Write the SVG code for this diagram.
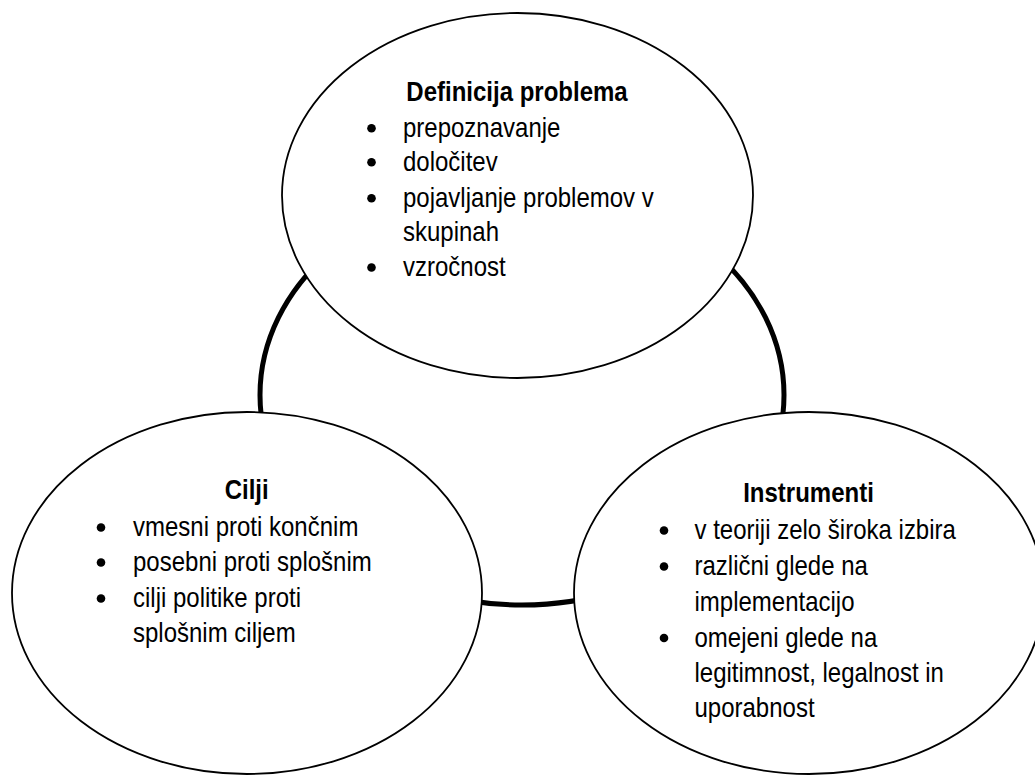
<svg xmlns="http://www.w3.org/2000/svg" width="1035" height="776" viewBox="0 0 1035 776">
<style>
.bg{fill:#fff}
.ring{fill:none;stroke:#000;stroke-width:5}
.node{fill:#fff;stroke:#000;stroke-width:1.8}
.h{font-family:"Liberation Sans",Arial,sans-serif;font-size:24px;font-weight:bold;fill:#000;text-anchor:middle}
.t{font-family:"Liberation Sans",Arial,sans-serif;font-size:24px;fill:#000}
.b{fill:#000}
</style>
<rect class="bg" x="0" y="0" width="1035" height="776"/>
<g id="connectors">
<ellipse class="ring" cx="522" cy="395" rx="262" ry="210"/>
</g>
<g id="node-definicija">
<ellipse class="node" cx="517.5" cy="195.5" rx="235.5" ry="182.5"/>
<text class="h" transform="translate(517,100.7) scale(1,1.15)">Definicija problema</text>
<circle class="b" cx="371.5" cy="128.2" r="4.3"/>
<text class="t" transform="translate(403,136.7) scale(1,1.15)">prepoznavanje</text>
<circle class="b" cx="371.5" cy="162.2" r="4.3"/>
<text class="t" transform="translate(403,170.7) scale(1,1.15)">določitev</text>
<circle class="b" cx="371.5" cy="198.2" r="4.3"/>
<text class="t" transform="translate(403,206.7) scale(1,1.15)">pojavljanje problemov v</text>
<text class="t" transform="translate(403,240.7) scale(1,1.15)">skupinah</text>
<circle class="b" cx="371.5" cy="267.5" r="4.3"/>
<text class="t" transform="translate(403,276) scale(1,1.15)">vzročnost</text>
</g>
<g id="node-cilji">
<ellipse class="node" cx="247" cy="593" rx="235" ry="181"/>
<text class="h" transform="translate(246.7,499.3) scale(1,1.15)">Cilji</text>
<circle class="b" cx="101" cy="527.5" r="4.3"/>
<text class="t" transform="translate(133,536) scale(1,1.15)">vmesni proti končnim</text>
<circle class="b" cx="101" cy="562.5" r="4.3"/>
<text class="t" transform="translate(133,571) scale(1,1.15)">posebni proti splošnim</text>
<circle class="b" cx="101" cy="598.5" r="4.3"/>
<text class="t" transform="translate(133,607) scale(1,1.15)">cilji politike proti</text>
<text class="t" transform="translate(133,642) scale(1,1.15)">splošnim ciljem</text>
</g>
<g id="node-instrumenti">
<ellipse class="node" cx="809" cy="593" rx="235" ry="181"/>
<text class="h" transform="translate(808.5,502) scale(1,1.15)">Instrumenti</text>
<circle class="b" cx="664" cy="530.5" r="4.3"/>
<text class="t" transform="translate(694.5,539) scale(1,1.15)">v teoriji zelo široka izbira</text>
<circle class="b" cx="664" cy="566.5" r="4.3"/>
<text class="t" transform="translate(694.5,575) scale(1,1.15)">različni glede na</text>
<text class="t" transform="translate(694.5,610.5) scale(1,1.15)">implementacijo</text>
<circle class="b" cx="664" cy="638" r="4.3"/>
<text class="t" transform="translate(694.5,646.5) scale(1,1.15)">omejeni glede na</text>
<text class="t" transform="translate(694.5,682) scale(1,1.15)">legitimnost, legalnost in</text>
<text class="t" transform="translate(694.5,717.4) scale(1,1.15)">uporabnost</text>
</g>
</svg>
